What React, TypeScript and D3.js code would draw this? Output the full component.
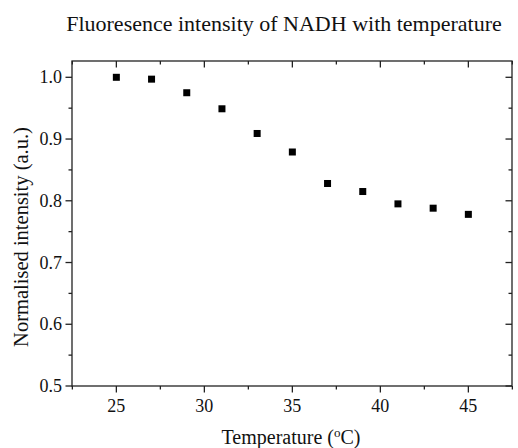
import React from "react";
import * as d3 from "d3";

const temperatures = [25, 27, 29, 31, 33, 35, 37, 39, 41, 43, 45];
const intensities = [1.0, 0.997, 0.975, 0.949, 0.909, 0.879, 0.828, 0.815, 0.795, 0.788, 0.778];
const xTicks = [25, 30, 35, 40, 45];
const yTicks = [0.5, 0.6, 0.7, 0.8, 0.9, 1.0];
const xMinor = [22.5, 27.5, 32.5, 37.5, 42.5, 47.5];
const yMinor = [0.55, 0.65, 0.75, 0.85, 0.95];

const W = 518, H = 448;
const L = 72, R = 512, T = 61, B = 386;
const FONT = "'Liberation Serif', 'Times New Roman', serif";

export default function App() {
  const x = d3.scaleLinear().domain([22.48, 47.48]).range([L, R]);
  const y = d3.scaleLinear().domain([0.5, 1.0264]).range([B, T]);
  const stroke = "#222";
  const sw = 1.3;
  const maj = 6.5, min = 3.5;
  const ms = 7;
  return (
    <svg width={W} height={H} style={{ position: "absolute", left: 0, top: 0, background: "#fff" }} fontFamily={FONT}>
      <text x={284} y={31} textAnchor="middle" fontSize={22} fill="#111">
        Fluoresence intensity of NADH with temperature
      </text>
      <rect x={L} y={T} width={R - L} height={B - T} fill="none" stroke={stroke} strokeWidth={sw} />
      {xTicks.map((t) => (
        <g key={"xt" + t}>
          <line x1={x(t)} x2={x(t)} y1={B} y2={B + maj} stroke={stroke} strokeWidth={sw} />
          <line x1={x(t)} x2={x(t)} y1={T} y2={T + maj} stroke={stroke} strokeWidth={sw} />
          <text x={x(t)} y={412} textAnchor="middle" fontSize={18} fill="#111">{t}</text>
        </g>
      ))}
      {xMinor.map((t) => (
        <g key={"xm" + t}>
          <line x1={x(t)} x2={x(t)} y1={B} y2={B + min} stroke={stroke} strokeWidth={sw} />
          <line x1={x(t)} x2={x(t)} y1={T} y2={T + min} stroke={stroke} strokeWidth={sw} />
        </g>
      ))}
      {yTicks.map((t) => (
        <g key={"yt" + t}>
          <line x1={L - maj} x2={L} y1={y(t)} y2={y(t)} stroke={stroke} strokeWidth={sw} />
          <line x1={R - maj} x2={R} y1={y(t)} y2={y(t)} stroke={stroke} strokeWidth={sw} />
          <text x={L - 10} y={y(t) + 6} textAnchor="end" fontSize={18} fill="#111">{t.toFixed(1)}</text>
        </g>
      ))}
      {yMinor.map((t) => (
        <g key={"ym" + t}>
          <line x1={L - min} x2={L} y1={y(t)} y2={y(t)} stroke={stroke} strokeWidth={sw} />
          <line x1={R - min} x2={R} y1={y(t)} y2={y(t)} stroke={stroke} strokeWidth={sw} />
        </g>
      ))}
      {temperatures.map((t, i) => (
        <rect key={"p" + i} x={x(t) - ms / 2} y={y(intensities[i]) - ms / 2} width={ms} height={ms} fill="#000" />
      ))}
      <text x={291} y={444} textAnchor="middle" fontSize={20} fill="#111">
        Temperature (<tspan dy={-7} fontSize={13}>o</tspan><tspan dy={7}>C)</tspan>
      </text>
      <text transform={`translate(28, 237) rotate(-90)`} textAnchor="middle" fontSize={20.5} fill="#111">
        Normalised intensity (a.u.)
      </text>
    </svg>
  );
}
